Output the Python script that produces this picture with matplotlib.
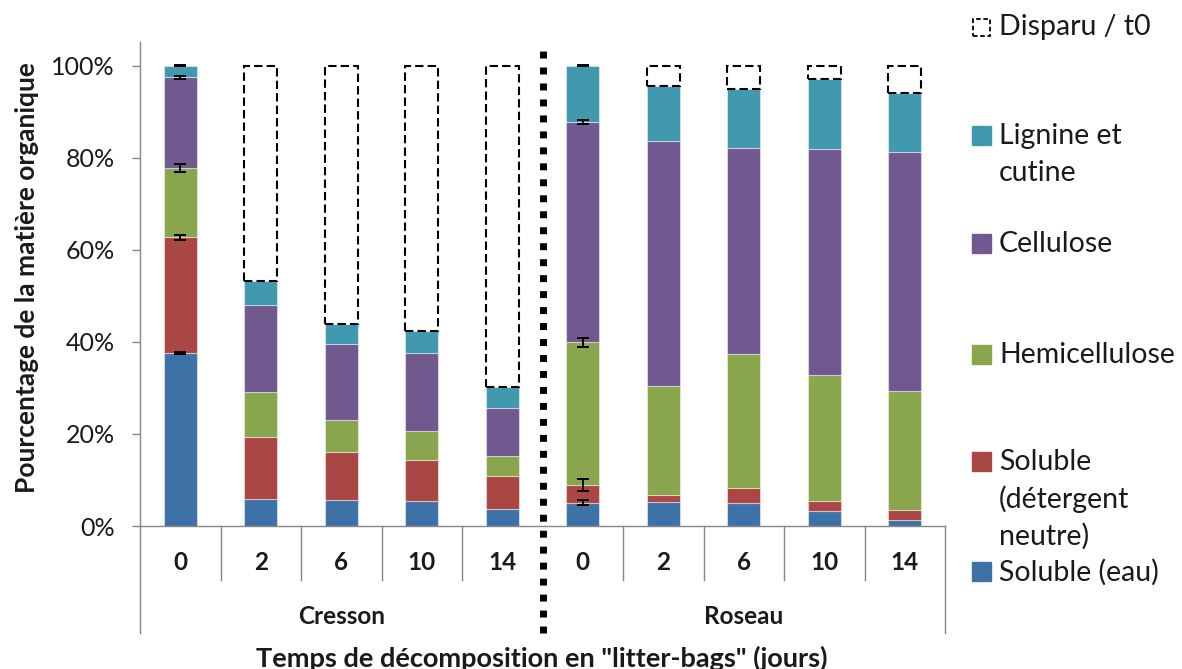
import matplotlib.pyplot as plt
import numpy as np
from matplotlib.patches import Rectangle

plt.rcParams['font.family'] = ['Lato', 'DejaVu Sans']

# data (percent of initial organic matter)
times = ['0', '2', '6', '10', '14', '0', '2', '6', '10', '14']
species = ['Cresson', 'Roseau']
soluble_eau = [37.6, 5.9, 5.6, 5.4, 3.8, 5.1, 5.3, 4.9, 3.3, 1.2]
soluble_ndf = [25.2, 13.5, 10.5, 8.9, 7.0, 3.8, 1.5, 3.4, 2.1, 2.3]
hemicellulose = [15.0, 9.7, 6.9, 6.4, 4.4, 31.0, 23.6, 29.0, 27.4, 25.8]
cellulose = [19.7, 19.0, 16.5, 16.8, 10.4, 47.9, 53.3, 44.8, 49.1, 51.9]
lignine = [2.5, 5.2, 4.3, 4.8, 4.6, 12.2, 12.0, 12.8, 15.3, 13.0]

# standard errors, only measured at t0
err_eau = [0.2, 0, 0, 0, 0, 0.45, 0, 0, 0, 0]
err_ndf = [0.55, 0, 0, 0, 0, 1.4, 0, 0, 0, 0]
err_hemi = [0.8, 0, 0, 0, 0, 0.9, 0, 0, 0, 0]
err_cell = [0.4, 0, 0, 0, 0, 0.4, 0, 0, 0, 0]
err_lign = [0.1, 0, 0, 0, 0, 0.1, 0, 0, 0, 0]

layers = [soluble_eau, soluble_ndf, hemicellulose, cellulose, lignine]
errors = [err_eau, err_ndf, err_hemi, err_cell, err_lign]
labels = ['Soluble (eau)', 'Soluble\n(détergent\nneutre)', 'Hemicellulose',
          'Cellulose', 'Lignine et\ncutine']
colors = ['#3E72A7', '#AA4643', '#89A54E', '#71588F', '#4198AF']

W, H = 1182, 669
fig = plt.figure(figsize=(W / 100, H / 100), dpi=100)
ax = fig.add_axes([140 / W, (H - 526) / H, 805 / W, 484 / H])

x = np.arange(len(times))
bw = 0.41
bottom = np.zeros(len(times))
for vals, err, col in zip(layers, errors, colors):
    vals = np.array(vals)
    ax.bar(x, vals, bw, bottom=bottom, color=col,
           edgecolor=(1, 1, 1, 0.45), linewidth=0.8, zorder=2)
    bottom = bottom + vals
    err = np.array(err)
    m = err > 0
    ax.errorbar(x[m], bottom[m], yerr=err[m], fmt='none', ecolor='black',
                elinewidth=1.3, capsize=4.3, capthick=1.4, zorder=4)

# part that disappeared since t0
missing = 100 - bottom
m = missing > 0.5
ax.bar(x[m], missing[m], bw, bottom=bottom[m], fill=False, edgecolor='black',
       linestyle=(0, (4, 2)), linewidth=1.5, zorder=3)

gray = '#868686'
txt = '#1a1a1a'
ax.set_xlim(-0.5, len(times) - 0.5)
ax.set_ylim(0, 105.2)
ax.set_yticks(np.arange(0, 101, 20))
ax.set_yticklabels([f'{v}%' for v in range(0, 101, 20)])
for s in ['top', 'right']:
    ax.spines[s].set_visible(False)
for s in ['left', 'bottom']:
    ax.spines[s].set_color(gray)
    ax.spines[s].set_linewidth(1.0)
ax.tick_params(axis='x', length=0, labelbottom=False)
ax.tick_params(axis='y', direction='out', length=6, width=1.0, color=gray,
               pad=12, labelsize=18, labelcolor=txt)

# two-level category axis
tr = ax.get_xaxis_transform()
for i, t in enumerate(times):
    ax.text(i, -0.076, t, transform=tr, ha='center', va='center',
            fontsize=17.5, fontweight='bold', color=txt)
for b in np.arange(0.5, len(times) - 1, 1):
    if b == 4.5:
        continue
    ax.plot([b, b], [0, -0.112], transform=tr, color=gray, lw=1.0, clip_on=False)
for b in [-0.5, len(times) - 0.5]:
    ax.plot([b, b], [0, -0.221], transform=tr, color=gray, lw=1.0, clip_on=False)
for k, sp in enumerate(species):
    ax.text(2 + 5 * k, -0.186, sp, transform=tr, ha='center', va='center',
            fontsize=17.5, fontweight='bold', color=txt)

# separator between the two species
ax.plot([4.5, 4.5], [-0.221, 0.99], transform=tr, color='black', lw=5,
        linestyle=(0, (1.0, 1.3)), clip_on=False, zorder=5)

fig.text(542 / W, 1 - 658 / H, 'Temps de décomposition en "litter-bags" (jours)',
         ha='center', va='center', fontsize=19.5, fontweight='bold', color=txt)
fig.text(27 / W, 1 - 278 / H, 'Pourcentage de la matière organique', rotation=90,
         ha='center', va='center', fontsize=19, fontweight='bold', color=txt)

# legend drawn by hand (Excel layout)
leg_y = [572, 462, 355, 244, 136]
pitch = 37
for lab, col, y in zip(labels, colors, leg_y):
    fig.add_artist(Rectangle((972 / W, 1 - (y + 9) / H), 19 / W, 19 / H,
                             transform=fig.transFigure, color=col))
    for j, line in enumerate(lab.split('\n')):
        fig.text(999 / W, 1 - (y + j * pitch) / H, line, ha='left', va='center',
                 fontsize=20.5, color=txt)
fig.add_artist(Rectangle((973 / W, 1 - 36 / H), 17 / W, 17 / H,
                         transform=fig.transFigure, fill=False, edgecolor='black',
                         linestyle=(0, (2.5, 1.5)), linewidth=1.3))
fig.text(999 / W, 1 - 27 / H, 'Disparu / t0', ha='left', va='center',
         fontsize=20.5, color=txt)

fig.savefig('out.png', dpi=100)
